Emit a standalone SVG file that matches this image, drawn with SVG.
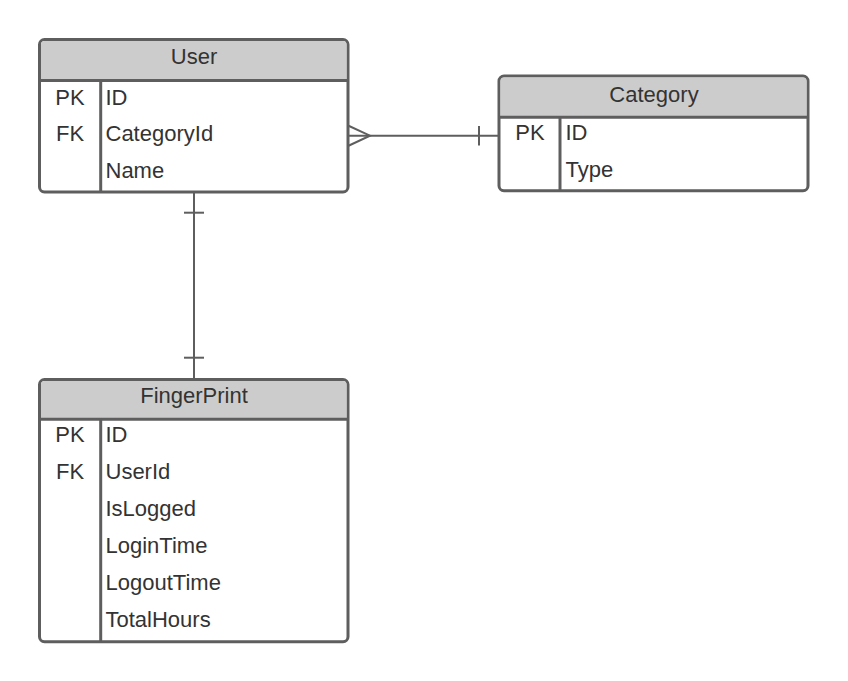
<svg xmlns="http://www.w3.org/2000/svg" width="848" height="681" viewBox="0 0 848 681">
<style>
.box{fill:#ffffff;stroke:#5e5e5e;stroke-width:3}
.hdr{fill:#cccccc}
.ln{stroke:#5e5e5e;stroke-width:3;fill:none}
.cn{stroke:#5e5e5e;stroke-width:2;fill:none}
text{font-family:"Liberation Sans",Arial,sans-serif;font-size:22px;fill:#333333}
.c{text-anchor:middle}
</style>
<rect width="848" height="681" fill="#ffffff"/>
<g id="connectors">
<line class="cn" x1="348" y1="135.7" x2="499" y2="135.7"/>
<path class="cn" d="M348,125.5 L370,135.7 L348,146"/>
<line class="cn" x1="479" y1="126" x2="479" y2="145.5"/>
<line class="cn" x1="194" y1="192" x2="194" y2="379.5"/>
<line class="cn" x1="184" y1="212.7" x2="204" y2="212.7"/>
<line class="cn" x1="184" y1="357.7" x2="204" y2="357.7"/>
</g>
<g id="user">
<rect class="box" x="39.5" y="39.5" width="308.5" height="152.5" rx="5"/>
<path class="hdr" d="M44.5,41 H343 A3.5,3.5 0 0 1 346.5,44.5 V80.5 H41 V44.5 A3.5,3.5 0 0 1 44.5,41 Z"/>
<line class="ln" x1="39.5" y1="80.5" x2="348" y2="80.5"/>
<line class="ln" x1="100.7" y1="80.5" x2="100.7" y2="192"/>
<text class="c" x="194" y="64.3">User</text>
<text class="c" x="70" y="104.5">PK</text>
<text x="105.5" y="104.5">ID</text>
<text class="c" x="70" y="141">FK</text>
<text x="105.5" y="141">CategoryId</text>
<text x="105.5" y="177.5">Name</text>
</g>
<g id="category">
<rect class="box" x="499" y="76" width="309" height="114.7" rx="5"/>
<path class="hdr" d="M504,77.5 H803 A3.5,3.5 0 0 1 806.5,81 V117.3 H500.5 V81 A3.5,3.5 0 0 1 504,77.5 Z"/>
<line class="ln" x1="499" y1="117.3" x2="808" y2="117.3"/>
<line class="ln" x1="560" y1="117.3" x2="560" y2="190.7"/>
<text class="c" x="654" y="101.7">Category</text>
<text class="c" x="530" y="140">PK</text>
<text x="565.5" y="140">ID</text>
<text x="565.5" y="176.7">Type</text>
</g>
<g id="fingerprint">
<rect class="box" x="39.5" y="379.5" width="308.5" height="262.2" rx="5"/>
<path class="hdr" d="M44.5,381 H343 A3.5,3.5 0 0 1 346.5,384.5 V419.3 H41 V384.5 A3.5,3.5 0 0 1 44.5,381 Z"/>
<line class="ln" x1="39.5" y1="419.3" x2="348" y2="419.3"/>
<line class="ln" x1="100.7" y1="419.3" x2="100.7" y2="641.7"/>
<text class="c" x="194" y="403.3">FingerPrint</text>
<text class="c" x="70" y="442.3">PK</text>
<text x="105.5" y="442.3">ID</text>
<text class="c" x="70" y="479">FK</text>
<text x="105.5" y="479">UserId</text>
<text x="105.5" y="516">IsLogged</text>
<text x="105.5" y="552.7">LoginTime</text>
<text x="105.5" y="590">LogoutTime</text>
<text x="105.5" y="626.7">TotalHours</text>
</g>
</svg>
